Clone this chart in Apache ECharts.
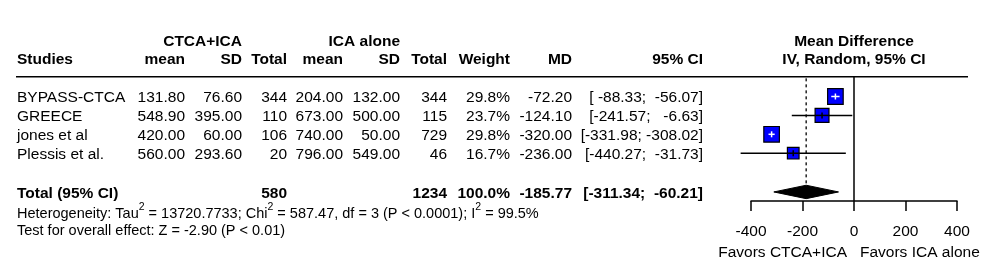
<!DOCTYPE html>
<html><head><meta charset="utf-8">
<script src="https://cdn.jsdelivr.net/npm/echarts@6/dist/echarts.min.js"></script>
<style>html,body{margin:0;padding:0;background:#fff}#c{width:985px;height:269px}</style>
</head><body><div id="c"></div>
<script>
// ---------------- data ----------------
const studies   = ['BYPASS-CTCA', 'GREECE', 'jones et al', 'Plessis et al.'];
const expMean   = [131.80, 548.90, 420.00, 560.00];
const expSD     = [76.60, 395.00, 60.00, 293.60];
const expTotal  = [344, 110, 106, 20];
const ctrlMean  = [204.00, 673.00, 740.00, 796.00];
const ctrlSD    = [132.00, 500.00, 50.00, 549.00];
const ctrlTotal = [344, 115, 729, 46];
const weights   = [29.8, 23.7, 29.8, 16.7];
const md        = [-72.20, -124.10, -320.00, -236.00];
const ciLower   = [-88.33, -241.57, -331.98, -440.27];
const ciUpper   = [-56.07, -6.63, -308.02, -31.73];
const pooledMD = -185.77, pooledLower = -311.34, pooledUpper = -60.21;
const pooledWeight = 100.0, pooledExpTotal = 580, pooledCtrlTotal = 1234;
const xTicks = [-400, -200, 0, 200, 400];
const groupLabels = ['CTCA+ICA', 'ICA alone'];
const headers = ['Studies', 'mean', 'SD', 'Total', 'mean', 'SD', 'Total', 'Weight', 'MD', '95% CI'];
const plotTitle = ['Mean Difference', 'IV, Random, 95% CI'];
const favorLabels = ['Favors CTCA+ICA', 'Favors ICA alone'];
const hetParts = ['Heterogeneity: Tau', '2', ' = 13720.7733; Chi', '2', ' = 587.47, df = 3 (P < 0.0001); I', '2', ' = 99.5%'];
const overallText = 'Test for overall effect: Z = -2.90 (P < 0.01)';

// ---------------- layout ----------------
const FONT = '"Liberation Sans", Arial, sans-serif';
const FS = 15.5;      // table / plot text
const FS_FOOT = 14.5; // heterogeneity / overall effect
const TDY = 1.5;      // text vertical nudge
const COLX = {study: 17, expMean: 185, expSD: 242, expTotal: 287, ctrlMean: 343, ctrlSD: 400,
              ctrlTotal: 447, weight: 510, md: 572, ci: 703};
const ROW = {group: -3, header: -2, rule: -1.04, total: 5.05, het: 6.15, test: 7.05, favor: 8.17};
const YMAX = 5.529;
const RULE_X = [16, 968];
const SQ = 2.85; // square size factor (px per sqrt(weight))

// ---------------- helpers ----------------
const f2 = v => v.toFixed(2);
const pad = (s, n) => ' '.repeat(Math.max(0, n - s.length)) + s;
const ciStr = (lo, hi) => '[' + pad(f2(lo), 7) + '; ' + pad(f2(hi), 7) + ']';

function txt(x, y, text, align, bold, extra) {
  return {type: 'text', x: x, y: y + TDY, silent: true,
    style: Object.assign({text: text, align: align, textAlign: align,
      verticalAlign: 'middle', textVerticalAlign: 'middle', fill: '#000',
      fontSize: FS, fontFamily: FONT, fontWeight: bold ? 'bold' : 'normal'}, extra || {})};
}

// table rows built from the arrays
const tableRows = [];
tableRows.push({row: ROW.group, cells: [
  [COLX.expSD, groupLabels[0], 'right', true], [COLX.ctrlSD, groupLabels[1], 'right', true]]});
tableRows.push({row: ROW.header, cells: [
  [COLX.study, headers[0], 'left', true], [COLX.expMean, headers[1], 'right', true],
  [COLX.expSD, headers[2], 'right', true], [COLX.expTotal, headers[3], 'right', true],
  [COLX.ctrlMean, headers[4], 'right', true], [COLX.ctrlSD, headers[5], 'right', true],
  [COLX.ctrlTotal, headers[6], 'right', true], [COLX.weight, headers[7], 'right', true],
  [COLX.md, headers[8], 'right', true], [COLX.ci, headers[9], 'right', true]]});
studies.forEach((s, i) => {
  tableRows.push({row: i, cells: [
    [COLX.study, s, 'left', false], [COLX.expMean, f2(expMean[i]), 'right', false],
    [COLX.expSD, f2(expSD[i]), 'right', false], [COLX.expTotal, String(expTotal[i]), 'right', false],
    [COLX.ctrlMean, f2(ctrlMean[i]), 'right', false], [COLX.ctrlSD, f2(ctrlSD[i]), 'right', false],
    [COLX.ctrlTotal, String(ctrlTotal[i]), 'right', false], [COLX.weight, weights[i].toFixed(1) + '%', 'right', false],
    [COLX.md, f2(md[i]), 'right', false], [COLX.ci, ciStr(ciLower[i], ciUpper[i]), 'right', false]]});
});
tableRows.push({row: ROW.total, cells: [
  [COLX.study, 'Total (95% CI)', 'left', true], [COLX.expTotal, String(pooledExpTotal), 'right', true],
  [COLX.ctrlTotal, String(pooledCtrlTotal), 'right', true], [COLX.weight, pooledWeight.toFixed(1) + '%', 'right', true],
  [COLX.md, f2(pooledMD), 'right', true], [COLX.ci, ciStr(pooledLower, pooledUpper), 'right', true]]});
tableRows.push({row: ROW.het, het: true});
tableRows.push({row: ROW.test, foot: true, cells: [[COLX.study, overallText, 'left', false]]});

const hetRich = hetParts.map((p, k) => (k % 2 === 1 ? '{sup|' + p + '}' : '{n|' + p + '}')).join('');

const chart = echarts.init(document.getElementById('c'), null, {renderer: 'canvas'});
chart.setOption({
  animation: false,
  backgroundColor: '#fff',
  grid: {left: 751, right: 28, top: 39.8, bottom: 68, containLabel: false},
  xAxis: {
    type: 'value', min: xTicks[0], max: xTicks[xTicks.length - 1], interval: 200, position: 'bottom',
    axisLine: {show: true, onZero: false, lineStyle: {color: '#000', width: 1.5}},
    axisTick: {show: true, length: 10, lineStyle: {color: '#000', width: 1.5}},
    axisLabel: {color: '#000', fontSize: FS, fontFamily: FONT, margin: 23},
    splitLine: {show: false}
  },
  yAxis: {type: 'value', min: -3, max: YMAX, inverse: true, show: false},
  series: [
    { // table text
      type: 'custom', silent: true, clip: false,
      data: tableRows.map(r => [0, r.row]),
      renderItem: function (params, api) {
        const r = tableRows[params.dataIndex];
        const y = api.coord([0, api.value(1)])[1];
        if (r.het) {
          return txt(COLX.study, y, hetRich, 'left', false, {fontSize: FS_FOOT, rich: {
            n: {fontSize: FS_FOOT, fontFamily: FONT, lineHeight: 25, fill: '#000'},
            sup: {fontSize: 10.5, fontFamily: FONT, lineHeight: 11, verticalAlign: 'top', fill: '#000'}}});
        }
        return {type: 'group', children: r.cells.map(c =>
          txt(c[0], y, c[1], c[2], c[3], r.foot ? {fontSize: FS_FOOT} : null))};
      }
    },
    { // plot header, rule, reference lines, favours labels
      type: 'custom', silent: true, clip: false,
      data: [[0, ROW.rule]],
      renderItem: function (params, api) {
        const zTop = api.coord([0, ROW.rule]);
        const zBot = api.coord([0, YMAX]);
        const pTop = api.coord([pooledMD, ROW.rule]);
        const pBot = api.coord([pooledMD, ROW.total]);
        const yg = api.coord([0, ROW.group])[1];
        const yh = api.coord([0, ROW.header])[1];
        const yf = api.coord([0, ROW.favor])[1];
        return {type: 'group', children: [
          {type: 'line', shape: {x1: RULE_X[0], y1: zTop[1], x2: RULE_X[1], y2: zTop[1]}, style: {stroke: '#000', lineWidth: 1.5}},
          {type: 'line', shape: {x1: zTop[0], y1: zTop[1], x2: zBot[0], y2: zBot[1]}, style: {stroke: '#000', lineWidth: 1.5}},
          {type: 'line', shape: {x1: pTop[0], y1: pTop[1] + 1.5, x2: pBot[0], y2: pBot[1] - 6.7},
            style: {stroke: '#000', lineWidth: 1.3, lineDash: [3, 3]}},
          txt(zTop[0], yg, plotTitle[0], 'center', true),
          txt(zTop[0], yh, plotTitle[1], 'center', true),
          txt(zTop[0] - 7, yf, favorLabels[0], 'right', false),
          txt(zTop[0] + 6, yf, favorLabels[1], 'left', false)
        ]};
      }
    },
    { // study squares and CIs
      type: 'custom', silent: true, clip: false,
      data: studies.map((s, i) => [md[i], i, ciLower[i], ciUpper[i], weights[i]]),
      renderItem: function (params, api) {
        const row = api.value(1);
        const c = api.coord([api.value(0), row]);
        const l = api.coord([api.value(2), row]);
        const h = api.coord([api.value(3), row]);
        const s = SQ * Math.sqrt(api.value(4));
        const inside = l[0] >= c[0] - s / 2 && h[0] <= c[0] + s / 2;
        const col = inside ? '#fff' : '#000';
        return {type: 'group', children: [
          {type: 'line', shape: {x1: l[0], y1: c[1], x2: h[0], y2: c[1]}, style: {stroke: '#000', lineWidth: 1.5}},
          {type: 'rect', shape: {x: c[0] - s / 2, y: c[1] - s / 2, width: s, height: s},
            style: {fill: '#0000ff', stroke: '#000', lineWidth: 1.2}},
          {type: 'line', shape: {x1: Math.max(l[0], c[0] - s / 2), y1: c[1], x2: Math.min(h[0], c[0] + s / 2), y2: c[1]},
            style: {stroke: col, lineWidth: 1.5}},
          {type: 'line', shape: {x1: c[0], y1: c[1] - 3, x2: c[0], y2: c[1] + 3}, style: {stroke: col, lineWidth: 1.5}}
        ]};
      }
    },
    { // pooled diamond
      type: 'custom', silent: true, clip: false,
      data: [[pooledMD, ROW.total, pooledLower, pooledUpper]],
      renderItem: function (params, api) {
        const row = api.value(1);
        const c = api.coord([api.value(0), row]);
        const l = api.coord([api.value(2), row]);
        const h = api.coord([api.value(3), row]);
        const hh = 6.7;
        return {type: 'polygon', shape: {points: [[l[0], c[1]], [c[0], c[1] - hh], [h[0], c[1]], [c[0], c[1] + hh]]},
          style: {fill: '#000', stroke: '#000', lineWidth: 1}};
      }
    }
  ]
});
</script>
</body></html>
